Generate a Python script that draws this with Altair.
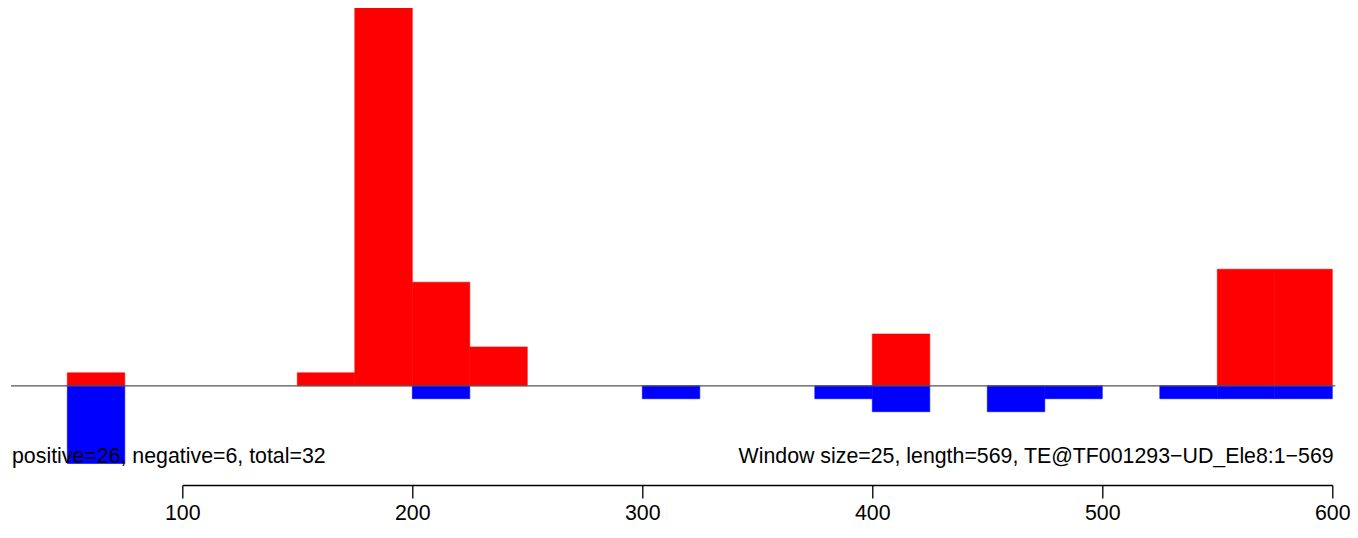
import altair as alt
import pandas as pd

# ---- data ----
window_size = 25
window_start = [50, 75, 100, 125, 150, 175, 200, 225, 250, 275, 300,
                325, 350, 375, 400, 425, 450, 475, 500, 525, 550, 575]
positive = [1, 0, 0, 0, 1, 32, 8, 3, 0, 0, 0,
            0, 0, 0, 4, 0, 0, 0, 0, 0, 9, 9]
negative = [6, 0, 0, 0, 0, 0, 1, 0, 0, 0, 1,
            0, 0, 1, 2, 0, 2, 1, 0, 1, 1, 1]
x_ticks = [100, 200, 300, 400, 500, 600]
left_label = "positive=26, negative=6, total=32"
right_label = "Window size=25, length=569, TE@TF001293\u2212UD_Ele8:1\u2212569"

rows = []
for s, p, n in zip(window_start, positive, negative):
    if p:
        rows.append(dict(start=s, end=s + window_size, top=p, bottom=0, kind="pos"))
    if n:
        rows.append(dict(start=s, end=s + window_size, top=0, bottom=-n, kind="neg"))
bars_df = pd.DataFrame(rows)

# plot region extent (user coordinates)
usr_x = [25.5, 601.3]
text_x = [25.96, 600.6]
text_y = -5.95
rule_df = pd.DataFrame({"x": [usr_x[0]], "x2": [usr_x[1]], "y": [0]})
left_df = pd.DataFrame({"x": [text_x[0]], "y": [text_y], "label": [left_label]})
right_df = pd.DataFrame({"x": [text_x[1]], "y": [text_y], "label": [right_label]})

FONT = "Liberation Sans"
FS = 21.33
xs = alt.Scale(domain=[100, 600], nice=False, zero=False)
ys = alt.Scale(domain=[-7.66, 29.17], nice=False, zero=False, clamp=True)
x_axis = alt.Axis(values=x_ticks, title=None, grid=False, labelAngle=0,
                  domainColor="black", domainWidth=1.33, tickColor="black",
                  tickWidth=1.33, tickSize=13, labelPadding=4,
                  labelFont=FONT, labelFontSize=FS, labelColor="black",
                  labelFlush=False, labelOverlap=False)

kind_scale = alt.Scale(domain=["pos", "neg"], range=["#ff0000", "#0000ff"])
bars = alt.Chart(bars_df).mark_rect(strokeWidth=0.6).encode(
    x=alt.X("start:Q", scale=xs, axis=x_axis),
    x2="end:Q",
    y=alt.Y("top:Q", scale=ys, axis=None),
    y2="bottom:Q",
    color=alt.Color("kind:N", scale=kind_scale, legend=None),
    stroke=alt.Stroke("kind:N", scale=kind_scale, legend=None),
)

rule = alt.Chart(rule_df).mark_rule(color="#555555", strokeWidth=1.33).encode(
    x=alt.X("x:Q", scale=xs, axis=x_axis),
    x2="x2:Q",
    y=alt.Y("y:Q", scale=ys, axis=None),
)

left_text = alt.Chart(left_df).mark_text(
    align="left", baseline="alphabetic", font=FONT, fontSize=FS, color="black"
).encode(
    x=alt.X("x:Q", scale=xs, axis=x_axis),
    y=alt.Y("y:Q", scale=ys, axis=None),
    text="label:N",
)

right_text = alt.Chart(right_df).mark_text(
    align="right", baseline="alphabetic", font=FONT, fontSize=FS, color="black"
).encode(
    x=alt.X("x:Q", scale=xs, axis=x_axis),
    y=alt.Y("y:Q", scale=ys, axis=None),
    text="label:N",
)

chart = alt.layer(bars, rule, left_text, right_text).properties(
    width=1150,
    height=477,
    autosize=alt.AutoSizeParams(type="none"),
    padding={"left": 174.3, "top": 0, "right": 17.7, "bottom": 39},
).configure_view(stroke=None)

chart.save("out.html", embed_options={"renderer": "svg", "actions": False})
